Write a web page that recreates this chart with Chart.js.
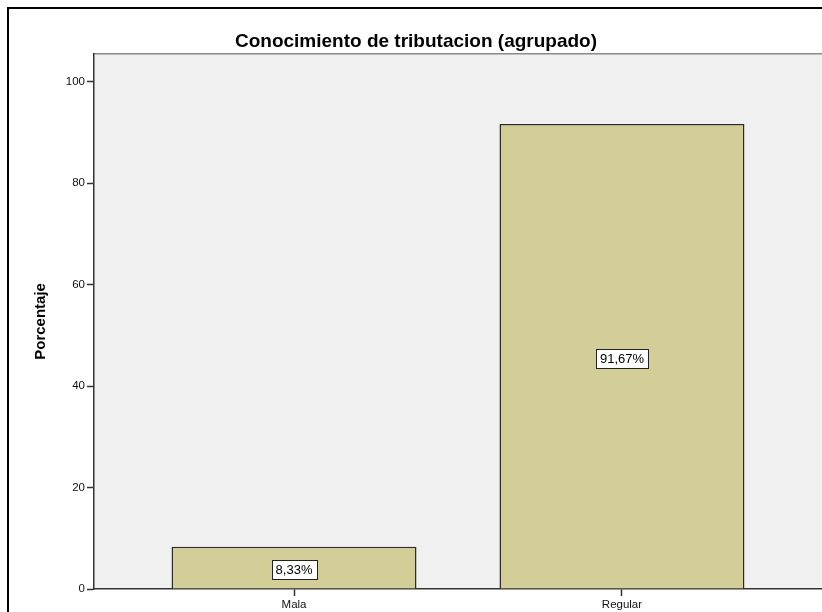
<!DOCTYPE html>
<html>
<head>
<meta charset="utf-8">
<script src="https://cdn.jsdelivr.net/npm/chart.js@4.4.1/dist/chart.umd.min.js"></script>
<style>
	body { margin: 0; background: #fff; }
	canvas { display: block; }
</style>
</head>
<body>
<canvas id="tributacionChart" width="822" height="612"></canvas>
<script>
const categories = ["Mala", "Regular"];
const categoryPositions = [0, 1];
const percentages = [8.33, 91.67];
const yTicks = [0, 20, 40, 60, 80, 100];

const chartCanvas = document.getElementById("tributacionChart");

//////////////////////////////// helpers

function formatPercent(v) {
	return v.toFixed(2).replace(".", ",") + "%";
}

// white frame + grey plot background, like the SPSS output
const backgroundPlugin = {
	id: "spssBackground",
	beforeDraw(chart) {
		const ctx = chart.ctx;
		const area = chart.chartArea;
		ctx.save();
		ctx.fillStyle = "#ffffff";
		ctx.fillRect(0, 0, chart.width, chart.height);

		ctx.fillStyle = "#f0f0f0";
		ctx.fillRect(area.left, area.top, area.right - area.left, area.bottom - area.top);

		ctx.strokeStyle = "#8a8a8a";
		ctx.lineWidth = 1.5;
		ctx.beginPath();
		ctx.moveTo(area.left, area.top);
		ctx.lineTo(area.right, area.top);
		ctx.stroke();

		ctx.strokeStyle = "#000000";
		ctx.lineWidth = 2;
		ctx.beginPath();
		ctx.moveTo(8, chart.height);
		ctx.lineTo(8, 8);
		ctx.lineTo(chart.width, 8);
		ctx.stroke();
		ctx.restore();
	},
};

// boxed value labels in the middle of each bar
const valueLabelPlugin = {
	id: "valueLabels",
	afterDatasetsDraw(chart) {
		const ctx = chart.ctx;
		const meta = chart.getDatasetMeta(0);
		ctx.save();
		ctx.font = "13px Arial, 'Liberation Sans', sans-serif";
		ctx.textAlign = "center";
		ctx.textBaseline = "middle";
		meta.data.forEach((bar, i) => {
			const text = formatPercent(percentages[i]);
			const w = ctx.measureText(text).width + 8;
			const h = 19;
			const cx = bar.x;
			const cy = (bar.y + bar.base) / 2 + 2;
			ctx.fillStyle = "#ffffff";
			ctx.fillRect(Math.round(cx - w / 2) + 0.5, Math.round(cy - h / 2) + 0.5, Math.round(w), h);
			ctx.strokeStyle = "#222222";
			ctx.lineWidth = 1;
			ctx.strokeRect(Math.round(cx - w / 2) + 0.5, Math.round(cy - h / 2) + 0.5, Math.round(w), h);
			ctx.fillStyle = "#000000";
			ctx.fillText(text, cx, cy + 1);
		});
		ctx.restore();
	},
};

//////////////////////////////// Chart

const chartData = {
	datasets: [
		{
			data: categoryPositions.map((x, i) => ({ x: x, y: percentages[i] })),
			backgroundColor: "#d3cd97",
			borderColor: "#2b2b2b",
			borderWidth: 1.5,
			borderSkipped: "bottom",
			barPercentage: 0.747,
			categoryPercentage: 1,
		},
	],
};

const chartOptions = {
	responsive: false,
	animation: false,
	layout: {
		padding: { left: 10, right: 0, top: 0, bottom: 0 },
	},
	scales: {
		x: {
			type: "linear",
			offset: false,
			min: -0.61,
			max: 1.61,
			afterBuildTicks: (scale) => {
				scale.ticks = categoryPositions.map((v) => ({ value: v }));
			},
			afterFit: (scale) => {
				scale.height = 23;
			},
			grid: {
				offset: false,
				drawOnChartArea: false,
				tickLength: 7,
				tickColor: "#333333",
				tickWidth: 1.5,
			},
			border: {
				color: "#333333",
				width: 1.5,
			},
			ticks: {
				padding: 2,
				color: "#111111",
				maxRotation: 0,
				font: { family: "Arial, 'Liberation Sans', sans-serif", size: 11.5 },
				callback: (v) => categories[categoryPositions.indexOf(v)],
			},
		},
		y: {
			min: 0,
			max: 105.5,
			afterBuildTicks: (scale) => {
				scale.ticks = yTicks.map((v) => ({ value: v }));
			},
			afterFit: (scale) => {
				scale.width = 84;
			},
			grid: {
				drawOnChartArea: false,
				tickLength: 7,
				tickColor: "#333333",
				tickWidth: 1.5,
			},
			border: {
				color: "#333333",
				width: 1.5,
			},
			ticks: {
				padding: 2,
				color: "#111111",
				font: { family: "Arial, 'Liberation Sans', sans-serif", size: 11.5 },
			},
			title: {
				display: true,
				text: "Porcentaje",
				color: "#000000",
				padding: { top: 22 },
				font: { family: "Arial, 'Liberation Sans', sans-serif", size: 15, weight: "bold" },
			},
		},
	},
	plugins: {
		legend: {
			display: false,
		},
		tooltip: {
			enabled: false,
		},
		title: {
			display: true,
			text: "Conocimiento de tributacion (agrupado)",
			color: "#000000",
			font: { family: "Arial, 'Liberation Sans', sans-serif", size: 19, weight: "bold" },
			padding: { top: 30, bottom: 1 },
		},
	},
};

new Chart(chartCanvas, {
	type: "bar",
	data: chartData,
	options: chartOptions,
	plugins: [backgroundPlugin, valueLabelPlugin],
});
</script>
</body>
</html>
